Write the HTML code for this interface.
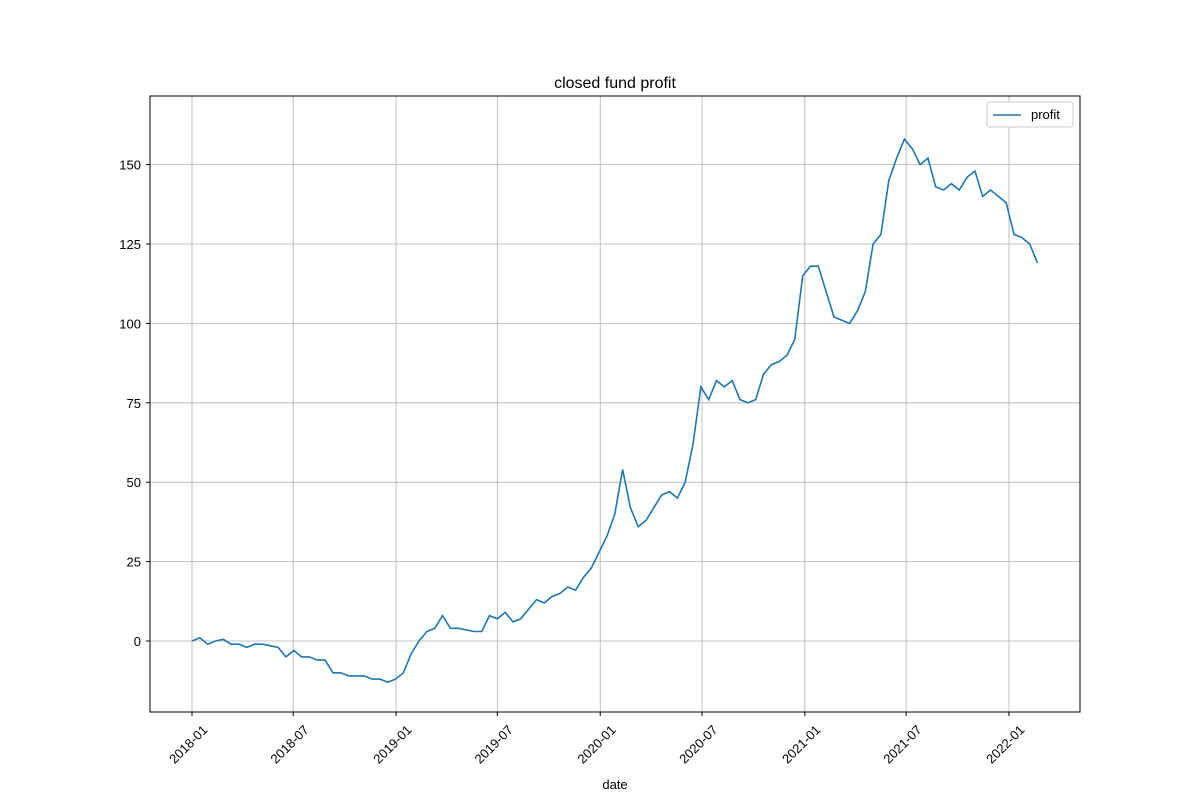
<!DOCTYPE html>
<html><head><meta charset="utf-8"><style>
body{margin:0;background:#fff;font-family:"Liberation Sans","DejaVu Sans",sans-serif}
</style></head><body>
<svg id="chart" width="1200" height="800" xmlns="http://www.w3.org/2000/svg">
<rect width="1200" height="800" fill="#fff"/>
<text x="615" y="88" font-size="16" text-anchor="middle">closed fund profit</text>
<g id="grid"></g><g id="ticks"></g>
<path id="line" fill="none" stroke="#1f77b4" stroke-width="1.6"/>
<rect x="150" y="96" width="930" height="616" fill="none" stroke="#000" stroke-width="1"/>
<text x="615" y="789" font-size="13" text-anchor="middle">date</text>
<g>
<rect x="987" y="102" width="86" height="25" rx="3" fill="#fff" stroke="#ccc"/>
<line x1="993" y1="115" x2="1021" y2="115" stroke="#1f77b4" stroke-width="1.6"/>
<text x="1031" y="119" font-size="13">profit</text>
</g>
</svg>
<script>
const startDate = "2018-01-01";
const stepDays = 14;
const values = [0,1,-1,0,0.5,-1,-1,-2,-1,-1,-1.5,-2,-5,-3,-5,-5,-6,-6,-10,-10,-11,-11,-11,-12,-12,-13,-12,
-10,-4,0,3,4,8,4,4,3.5,3,3,8,7,9,6,7,10,13,12,14,15,17,16,20,23,28,
33,40,54,42,36,38,42,46,47,45,50,62,80,76,82,80,82,76,75,76,84,87,88,90,95,115,
118,118,110,102,101,100,104,110,125,128,145,152,158,155,150,152,143,142,144,142,146,148,140,142,140,138,
128,127,125,119];
const xTickLabels = ["2018-01","2018-07","2019-01","2019-07","2020-01","2020-07","2021-01","2021-07","2022-01"];
const yTickValues = [0,25,50,75,100,125,150];

const ns="http://www.w3.org/2000/svg";
const t0=Date.parse("2018-01-01T00:00:00Z");
const xScale=ms=>192+(ms-t0)/86400000*(817/1461);
const yScale=v=>641-v*3.176;
const grid=document.getElementById('grid'),ticks=document.getElementById('ticks');
function mk(tag,attrs,parent){const e=document.createElementNS(ns,tag);for(const k in attrs)e.setAttribute(k,attrs[k]);parent.appendChild(e);return e;}
xTickLabels.forEach(l=>{
  const x=xScale(Date.parse(l+"-01T00:00:00Z"));
  const g=mk('line',{x1:x,x2:x,y1:96,y2:712,stroke:'#b0b0b0','stroke-width':0.8},grid);
  
  
  mk('line',{x1:x,x2:x,y1:712,y2:716,stroke:'#000'},ticks);
  const cx=x-4;
  const t=mk('text',{x:cx,y:749,'font-size':13,'text-anchor':'middle',transform:`rotate(-45 ${cx} 744)`},ticks);
  t.textContent=l;
  
  
});
yTickValues.forEach(v=>{
  const y=yScale(v);
  const g=mk('line',{x1:150,x2:1080,y1:y,y2:y,stroke:'#b0b0b0','stroke-width':0.8},grid);
  
  
  mk('line',{x1:146,x2:150,y1:y,y2:y,stroke:'#000'},ticks);
  const t=mk('text',{x:141,y:y+5,'font-size':13,'text-anchor':'end'},ticks);
  t.textContent=v;
  
  
});
const s0=Date.parse(startDate+"T00:00:00Z");
document.getElementById('line').setAttribute('d',values.map((v,i)=>(i?'L':'M')+xScale(s0+i*stepDays*86400000).toFixed(1)+','+yScale(v).toFixed(1)).join(''));
</script>
</body></html>
